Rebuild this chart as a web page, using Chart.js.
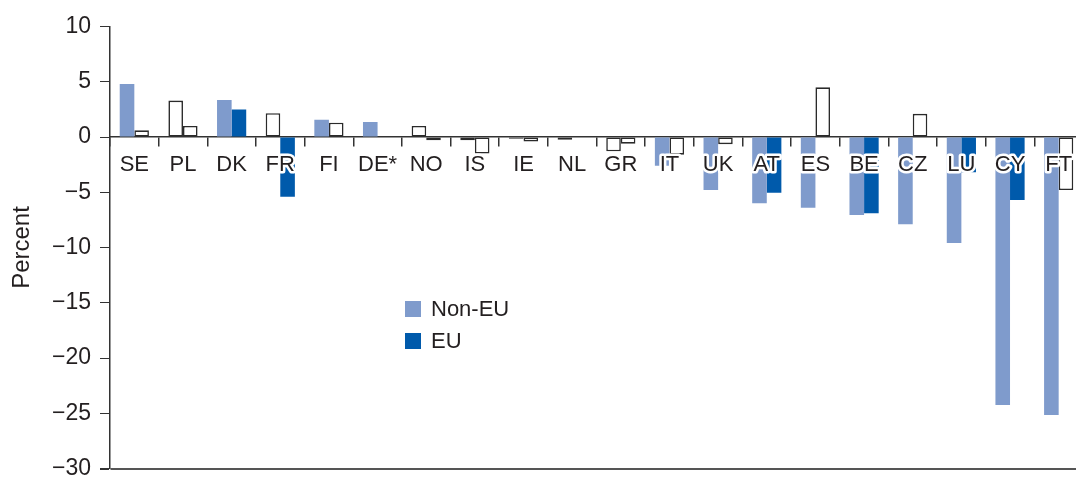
<!DOCTYPE html>
<html>
<head>
<meta charset="utf-8">
<script src="https://cdn.jsdelivr.net/npm/chart.js@4/dist/chart.umd.min.js"></script>
<style>
  html, body { margin: 0; padding: 0; background: #fff; overflow: hidden; }
  #wrap { position: relative; width: 1085px; height: 500px; }
</style>
</head>
<body>
<div id="wrap"><canvas id="c"></canvas></div>
<script>
const categories = ['SE','PL','DK','FR','FI','DE*','NO','IS','IE','NL','GR','IT','UK','AT','ES','BE','CZ','LU','CY','FT'];
const nonEU = [4.8, 3.3, 3.35, 2.15, 1.55, 1.35, 1.0, -0.3, -0.15, -0.25, -1.3, -2.6, -4.8, -6.0, -6.4, -7.05, -7.9, -9.6, -24.25, -25.15];
const eu    = [0.6, 1.0, 2.5, -5.4, 1.3, null, -0.3, -1.5, -0.4, null, -0.6, -1.6, -0.65, -5.05, 4.5, -6.9, 2.1, -3.2, -5.7, -4.8];
// true = filled (significant), false = white outlined bar
const nonEUFilled = [true, false, true, false, true, true, false, false, false, false, false, true, true, true, true, true, true, true, true, true];
const euFilled    = [false, false, true, true, false, false, false, false, false, false, false, false, false, true, false, true, false, true, true, false];
const yTicks = [10, 5, 0, -5, -10, -15, -20, -25, -30];
const seriesNames = ['Non-EU', 'EU'];

const LIGHT = '#7f9bcc';
const DARK = '#005aab';
const INK = '#231f20';
const FONT = '"Liberation Sans", Arial, sans-serif';

function makeDataset(label, data, filled, color) {
  return {
    label: label,
    data: data,
    backgroundColor: ctx => filled[ctx.dataIndex] ? color : '#ffffff',
    borderColor: ctx => filled[ctx.dataIndex] ? color : '#2a2a2a',
    borderWidth: ctx => filled[ctx.dataIndex] ? 0 : 1.6,
    borderSkipped: false,
    categoryPercentage: 0.6,
    barPercentage: 1.0,
    legendColor: color
  };
}

const labelPlugin = {
  id: 'catLabels',
  afterDatasetsDraw(chart) {
    const ctx = chart.ctx;
    const xs = chart.scales.x, ys = chart.scales.y;
    const y0 = ys.getPixelForValue(0);
    ctx.save();
    ctx.font = '22px ' + FONT;
    ctx.textAlign = 'center';
    ctx.textBaseline = 'middle';
    ctx.lineJoin = 'round';
    categories.forEach((c, i) => {
      const x = xs.getPixelForValue(i);
      ctx.strokeStyle = '#ffffff';
      ctx.lineWidth = 5;
      ctx.strokeText(c, x, y0 + 27.5);
      ctx.fillStyle = INK;
      ctx.fillText(c, x, y0 + 27.5);
    });
    // legend
    const lx = 405, ly = 301;
    ctx.textAlign = 'left';
    chart.data.datasets.forEach((ds, k) => {
      const yy = ly + k * 32;
      ctx.fillStyle = ds.legendColor;
      ctx.fillRect(lx, yy, 16, 16);
      ctx.fillStyle = INK;
      ctx.fillText(ds.label, lx + 26, yy + 8.5);
    });
    ctx.restore();
  }
};

new Chart(document.getElementById('c'), {
  type: 'bar',
  data: {
    labels: categories,
    datasets: [
      makeDataset(seriesNames[0], nonEU, nonEUFilled, LIGHT),
      makeDataset(seriesNames[1], eu, euFilled, DARK)
    ]
  },
  plugins: [labelPlugin],
  options: {
    responsive: true,
    maintainAspectRatio: false,
    animation: false,
    layout: { padding: { top: 26.5, bottom: 31.5, left: 0, right: 2 } },
    plugins: { legend: { display: false }, tooltip: { enabled: false } },
    scales: {
      x: {
        type: 'category',
        position: { y: 0 },
        offset: true,
        grid: { offset: true, drawOnChartArea: false, drawTicks: true, tickLength: 9, color: '#333', lineWidth: 1.5 },
        border: { display: true, color: '#333', width: 1.5 },
        ticks: { display: false }
      },
      y: {
        min: -30, max: 10,
        afterBuildTicks: s => { s.ticks = yTicks.map(v => ({ value: v })); },
        afterFit: s => { s.width = 110; },
        grid: {
          drawOnChartArea: true,
          color: ctx => (ctx.tick && ctx.tick.value === -30) ? '#555' : 'rgba(0,0,0,0)',
          lineWidth: ctx => (ctx.tick && ctx.tick.value === -30) ? 2 : 1,
          tickColor: '#333',
          tickLength: 10,
          drawTicks: true
        },
        border: { display: true, color: '#333', width: 1.5 },
        ticks: {
          color: INK,
          padding: 9,
          font: { family: FONT, size: 23 },
          callback: v => String(v).replace('-', '\u2212')
        },
        title: {
          display: true,
          text: 'Percent',
          color: INK,
          font: { family: FONT, size: 24 },
          padding: { top: 8, bottom: 0 }
        }
      }
    }
  }
});
</script>
</body>
</html>
